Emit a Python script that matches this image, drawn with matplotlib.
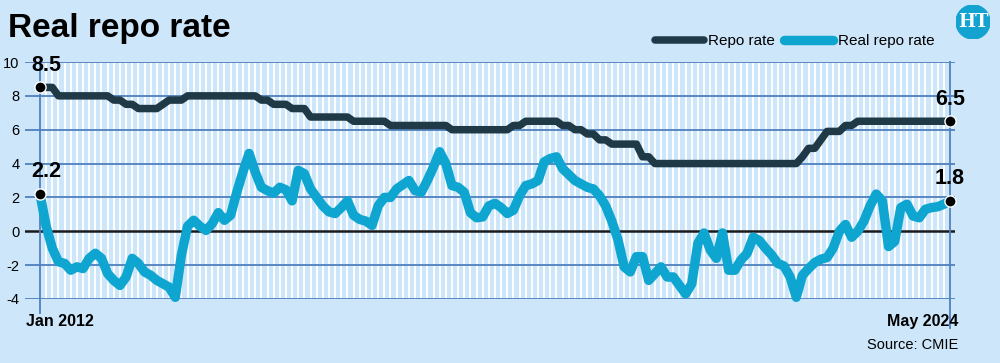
import numpy as np
import matplotlib
matplotlib.use('Agg')
import matplotlib.pyplot as plt
from matplotlib.patches import Circle

plt.rcParams['font.family'] = ['Liberation Sans Narrow', 'Liberation Sans', 'DejaVu Sans']

# Monthly data, Jan 2012 .. May 2024
repo_rate = [
    8.5, 8.5, 8.5, 8.0, 8.0, 8.0, 8.0, 8.0, 8.0, 8.0, 8.0, 8.0,            # 2012
    7.75, 7.75, 7.5, 7.5, 7.25, 7.25, 7.25, 7.25, 7.5, 7.75, 7.75, 7.75,   # 2013
    8.0, 8.0, 8.0, 8.0, 8.0, 8.0, 8.0, 8.0, 8.0, 8.0, 8.0, 8.0,            # 2014
    7.75, 7.75, 7.5, 7.5, 7.5, 7.25, 7.25, 7.25, 6.75, 6.75, 6.75, 6.75,  # 2015
    6.75, 6.75, 6.75, 6.5, 6.5, 6.5, 6.5, 6.5, 6.5, 6.25, 6.25, 6.25,     # 2016
    6.25, 6.25, 6.25, 6.25, 6.25, 6.25, 6.25, 6.0, 6.0, 6.0, 6.0, 6.0,    # 2017
    6.0, 6.0, 6.0, 6.0, 6.0, 6.25, 6.25, 6.5, 6.5, 6.5, 6.5, 6.5,         # 2018
    6.5, 6.25, 6.25, 6.0, 6.0, 5.75, 5.75, 5.4, 5.4, 5.15, 5.15, 5.15,    # 2019
    5.15, 5.15, 4.4, 4.4, 4.0, 4.0, 4.0, 4.0, 4.0, 4.0, 4.0, 4.0,         # 2020
    4.0, 4.0, 4.0, 4.0, 4.0, 4.0, 4.0, 4.0, 4.0, 4.0, 4.0, 4.0,           # 2021
    4.0, 4.0, 4.0, 4.0, 4.4, 4.9, 4.9, 5.4, 5.9, 5.9, 5.9, 6.25,          # 2022
    6.25, 6.5, 6.5, 6.5, 6.5, 6.5, 6.5, 6.5, 6.5, 6.5, 6.5, 6.5,          # 2023
    6.5, 6.5, 6.5, 6.5, 6.5,                                              # 2024
]
real_repo_rate = [
    2.2, 0.3, -1.0, -1.8, -1.9, -2.3, -2.1, -2.2, -1.6, -1.3, -1.6, -2.5,
    -2.9, -3.2, -2.7, -1.6, -1.9, -2.4, -2.6, -2.9, -3.1, -3.3, -3.9, -1.4,
    0.3, 0.65, 0.3, 0.05, 0.45, 1.1, 0.65, 0.95, 2.3, 3.5, 4.6, 3.5,
    2.6, 2.4, 2.25, 2.6, 2.45, 1.8, 3.6, 3.4, 2.5, 2.0, 1.5, 1.15,
    1.05, 1.4, 1.8, 0.95, 0.7, 0.6, 0.35, 1.5, 2.0, 2.0, 2.5, 2.75,
    3.0, 2.4, 2.3, 3.0, 3.8, 4.7, 4.0, 2.7, 2.6, 2.3, 1.1, 0.8,
    0.85, 1.5, 1.65, 1.4, 1.05, 1.25, 2.1, 2.7, 2.8, 3.0, 4.1, 4.3,
    4.4, 3.7, 3.35, 3.0, 2.8, 2.6, 2.5, 2.1, 1.5, 0.6, -0.5, -2.1,
    -2.4, -1.5, -1.5, -2.9, -2.5, -2.1, -2.7, -2.7, -3.2, -3.7, -3.1, -0.7,
    -0.1, -1.1, -1.6, -0.1, -2.3, -2.3, -1.7, -1.3, -0.35, -0.55, -1.0, -1.4,
    -1.9, -2.05, -2.7, -3.9, -2.6, -2.2, -1.85, -1.65, -1.55, -1.0, 0.0, 0.4,
    -0.35, 0.0, 0.6, 1.5, 2.2, 1.8, -0.9, -0.6, 1.4, 1.6, 0.9, 0.8,
    1.3, 1.4, 1.45, 1.6, 1.8,
]
y_ticks = [-4, -2, 0, 2, 4, 6, 8, 10]
end_labels = ['Jan 2012', 'May 2024']

BG = '#cde6fa'
GRID = '#4f7fbf'
DARK = '#1f3a46'
CYAN = '#0ea6d0'

months = np.arange(len(repo_rate))
last = months[-1]

fig = plt.figure(figsize=(10, 3.63), dpi=100, facecolor=BG)
ax = fig.add_axes([0.025, 1 - 299 / 363, 0.93, (299 - 62) / 363])
ax.set_facecolor(BG)
px = 910 / last  # pixels per month
ax.set_xlim(-15 / px, last + 5 / px)
ax.set_ylim(-4, 10)
for s in ax.spines.values():
    s.set_visible(False)

# white monthly stripes
for m in months:
    ax.axvline(m, color='white', lw=1.4, zorder=1)

# horizontal grid
for y in y_ticks:
    if y == 0:
        ax.axhline(y, color='#1a1a1a', lw=1.8, zorder=2)
    else:
        ax.axhline(y, color=GRID, lw=1.3, zorder=2)
ax.plot([0, 0], [-4.8, 10], color=GRID, lw=1.3, zorder=2, clip_on=False)
ax.plot([last, last], [-5.7, 10], color=GRID, lw=1.3, zorder=2, clip_on=False)

ax.set_xticks([])
ax.set_yticks(y_ticks)
ax.set_yticklabels([str(y) for y in y_ticks], fontsize=10.5)
ax.tick_params(axis='y', length=0, pad=4)

l1, = ax.plot(months, repo_rate, color=DARK, lw=5.4, solid_joinstyle='round',
              solid_capstyle='round', zorder=4, label='Repo rate', clip_on=False)
l2, = ax.plot(months, real_repo_rate, color=CYAN, lw=6.8, solid_joinstyle='round',
              solid_capstyle='round', zorder=4, label='Real repo rate', clip_on=False)

# end dots and value labels
for series in (repo_rate, real_repo_rate):
    for i, dx in ((0, 4.5), (last, 0)):
        ax.plot(i, series[i], 'o', color='black', ms=8, mec='white', mew=1,
                zorder=6, clip_on=False)
        ax.annotate(f'{series[i]:g}', xy=(i, series[i]), xytext=(dx, 16),
                    textcoords='offset points', ha='center', va='center',
                    fontsize=15.5, fontweight='bold', zorder=7)

ax.annotate(end_labels[0], xy=(0, -4), xytext=(-10, -16.5), textcoords='offset points',
            ha='left', va='center', fontsize=11.5, fontweight='bold')
ax.annotate(end_labels[1], xy=(last, -4), xytext=(6, -16.5), textcoords='offset points',
            ha='right', va='center', fontsize=11.5, fontweight='bold')
fig.text(0.958, 1 - 345 / 363, 'Source: CMIE', ha='right', va='center', fontsize=10.5)

fig.text(0.008, 1 - 29 / 363, 'Real repo rate', ha='left', va='center',
         fontsize=24, fontweight='bold')

fig.legend(handles=[l1, l2], loc='center right', bbox_to_anchor=(0.948, 1 - 41 / 363),
           ncol=2, frameon=False, handlelength=3.2, columnspacing=0.6,
           handletextpad=0.3, fontsize=11)

# HT logo
lax = fig.add_axes([0.956, 1 - 39 / 363, 0.034, 34 / 363])
lax.set_xlim(0, 1)
lax.set_ylim(0, 1)
lax.set_aspect('equal')
lax.axis('off')
lax.add_patch(Circle((0.5, 0.5), 0.5, color='#13a3d0'))
lax.text(0.5, 0.5, 'HT', color='white', ha='center', va='center', fontsize=13,
         fontweight='bold', family='DejaVu Serif')

fig.savefig('out.png', dpi=100, facecolor=BG)
